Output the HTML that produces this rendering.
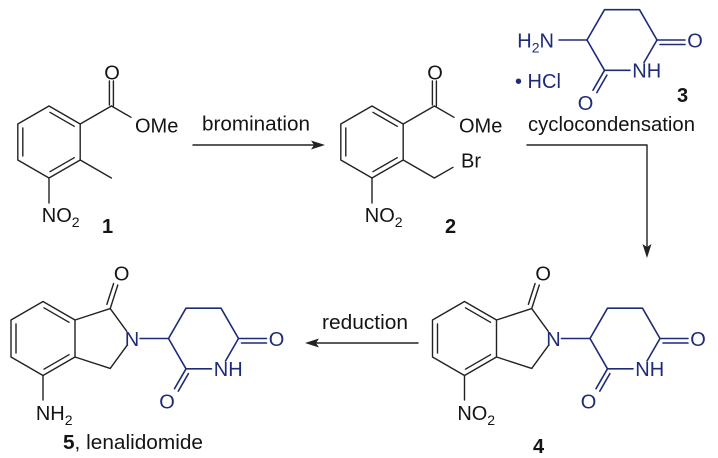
<!DOCTYPE html>
<html>
<head>
<meta charset="utf-8">
<style>
  html,body{margin:0;padding:0;background:#fff;}
  svg{display:block;}
  .k{stroke:#222;stroke-width:1.4;fill:none;stroke-linecap:round;stroke-linejoin:round}
  .b{stroke:#1f2a78;stroke-width:1.6;fill:none;stroke-linecap:round;stroke-linejoin:round}
  text{font-family:"Liberation Sans",Arial,sans-serif;}
  .a{font-size:20px;fill:#141414}
  .ab{font-size:20px;fill:#1f2a78}
  .c{font-size:20px;fill:#141414}
  .l{font-size:20px;font-weight:bold;fill:#141414}
</style>
</head>
<body>
<svg width="718" height="458" viewBox="0 0 718 458" xmlns="http://www.w3.org/2000/svg">
  <rect width="718" height="458" fill="#fff"/>

  <!-- Compound 1 -->
  <g class="k" transform="translate(49,142)">
    <polygon points="0,-36 31.2,-18 31.2,18 0,36 -31.2,18 -31.2,-18"/>
    <line x1="0.96" y1="-29.67" x2="25.24" y2="-15.67"/>
    <line x1="-26.2" y1="-14" x2="-26.2" y2="14"/>
    <line x1="0.96" y1="29.67" x2="25.24" y2="15.67"/>
    <line x1="31.2" y1="-18" x2="62.4" y2="-36"/>
    <line x1="60.4" y1="-37" x2="60.4" y2="-61"/>
    <line x1="64.4" y1="-36" x2="64.4" y2="-61"/>
    <line x1="62.4" y1="-36" x2="82" y2="-24.7"/>
    <line x1="31.2" y1="18" x2="62.4" y2="36"/>
    <line x1="0" y1="36" x2="0" y2="61"/>
  </g>
  <text class="a" x="112" y="79.3" text-anchor="middle">O</text>
  <text class="a" x="135" y="132.5">OMe</text>
  <text class="a" x="41.8" y="222">NO<tspan font-size="14" dy="5">2</tspan></text>
  <text class="l" x="102" y="233">1</text>

  <!-- Arrow 1 -->
  <line class="k" x1="193" y1="145" x2="315" y2="145"/>
  <polygon points="325,145 311,140.5 314,145 311,149.5" fill="#222"/>
  <text class="c" x="202" y="130.5" textLength="108" lengthAdjust="spacingAndGlyphs">bromination</text>

  <!-- Compound 2 -->
  <g class="k" transform="translate(372,142)">
    <polygon points="0,-36 31.2,-18 31.2,18 0,36 -31.2,18 -31.2,-18"/>
    <line x1="0.96" y1="-29.67" x2="25.24" y2="-15.67"/>
    <line x1="-26.2" y1="-14" x2="-26.2" y2="14"/>
    <line x1="0.96" y1="29.67" x2="25.24" y2="15.67"/>
    <line x1="31.2" y1="-18" x2="62.4" y2="-36"/>
    <line x1="60.4" y1="-37" x2="60.4" y2="-61"/>
    <line x1="64.4" y1="-36" x2="64.4" y2="-61"/>
    <line x1="62.4" y1="-36" x2="82" y2="-24.7"/>
    <polyline points="31.2,18 62.4,36 81,25.3"/>
    <line x1="0" y1="36" x2="0" y2="61"/>
  </g>
  <text class="a" x="435" y="79.3" text-anchor="middle">O</text>
  <text class="a" x="459" y="132.5">OMe</text>
  <text class="a" x="461" y="167.5">Br</text>
  <text class="a" x="364.8" y="222">NO<tspan font-size="14" dy="5">2</tspan></text>
  <text class="l" x="445" y="233">2</text>

  <!-- Compound 3 -->
  <g transform="translate(622,40)">
    <g class="b">
      <polyline points="-35,0 -17.5,-30.3 17.5,-30.3 35,0"/>
      <line x1="35" y1="0" x2="22" y2="22.5"/>
      <line x1="8" y1="30.3" x2="-17.5" y2="30.3"/>
      <line x1="-17.5" y1="30.3" x2="-35" y2="0"/>
      <line x1="35" y1="0" x2="63" y2="0"/>
      <line x1="38" y1="4.5" x2="63" y2="4.5"/>
      <line x1="-17.5" y1="30.3" x2="-29" y2="50.2"/>
      <line x1="-15.1" y1="35.15" x2="-25.2" y2="52.6"/>
      <line x1="-63" y1="0" x2="-35" y2="0"/>
    </g>
    <text class="ab" x="73" y="7.3" text-anchor="middle">O</text>
    <text class="ab" x="-36.5" y="70" text-anchor="middle">O</text>
    <text class="ab" x="10.3" y="37.6">NH</text>
  </g>
  <text class="ab" x="554" y="47.3" text-anchor="end">H<tspan font-size="14" dy="5">2</tspan><tspan dy="-5">N</tspan></text>
  <text class="ab" x="515" y="88">• HCl</text>
  <text class="l" x="677" y="102">3</text>
  <text class="c" x="528" y="131" textLength="167" lengthAdjust="spacingAndGlyphs">cyclocondensation</text>

  <!-- Arrow 2 -->
  <polyline class="k" points="527,145 647,145 647,247"/>
  <polygon points="647,258 642.5,244 647,247 651.5,244" fill="#222"/>

  <!-- Compound 4 -->
  <g transform="translate(464.5,338.5)">
    <g class="k">
      <polygon points="0,-37 32,-18.5 32,18.5 0,37 -32,18.5 -32,-18.5"/>
      <line x1="0.96" y1="-30.67" x2="26.04" y2="-16.17"/>
      <line x1="-27" y1="-14.5" x2="-27" y2="14.5"/>
      <line x1="0.96" y1="30.67" x2="26.04" y2="16.17"/>
      <line x1="32" y1="-18.5" x2="67.2" y2="-29.9"/>
      <line x1="67.2" y1="-29.9" x2="83.8" y2="-7.2"/>
      <line x1="67.2" y1="29.9" x2="83.8" y2="7.2"/>
      <line x1="32" y1="18.5" x2="67.2" y2="29.9"/>
      <line x1="67.2" y1="-29.9" x2="74.8" y2="-53.5"/>
      <line x1="63.85" y1="-34.15" x2="70.6" y2="-55"/>
      <line x1="0" y1="37" x2="0" y2="61.5"/>
    </g>
    <text class="a" x="78.6" y="-58" text-anchor="middle">O</text>
    <text class="ab" x="89" y="7.3" text-anchor="middle">N</text>
    <line class="b" x1="97" y1="0" x2="125.5" y2="0"/>
    <g transform="translate(160.5,0)">
      <g class="b">
        <polyline points="-35,0 -17.5,-30.3 17.5,-30.3 35,0"/>
        <line x1="35" y1="0" x2="22" y2="22.5"/>
        <line x1="8" y1="30.3" x2="-17.5" y2="30.3"/>
        <line x1="-17.5" y1="30.3" x2="-35" y2="0"/>
        <line x1="35" y1="0" x2="63" y2="0"/>
        <line x1="38" y1="4.5" x2="63" y2="4.5"/>
        <line x1="-17.5" y1="30.3" x2="-29" y2="50.2"/>
        <line x1="-15.1" y1="35.15" x2="-25.2" y2="52.6"/>
      </g>
      <text class="ab" x="73" y="7.3" text-anchor="middle">O</text>
      <text class="ab" x="-36.5" y="70" text-anchor="middle">O</text>
      <text class="ab" x="10.3" y="37.6">NH</text>
    </g>
    <text class="a" x="-7.2" y="81.5">NO<tspan font-size="14" dy="5">2</tspan></text>
  </g>
  <text class="l" x="533" y="453">4</text>

  <!-- Arrow 3 -->
  <line class="k" x1="418" y1="343" x2="315" y2="343"/>
  <polygon points="305,343 319,338.5 316,343 319,347.5" fill="#222"/>
  <text class="c" x="322" y="329" textLength="86" lengthAdjust="spacingAndGlyphs">reduction</text>

  <!-- Compound 5 -->
  <g transform="translate(43,338.5)">
    <g class="k">
      <polygon points="0,-37 32,-18.5 32,18.5 0,37 -32,18.5 -32,-18.5"/>
      <line x1="0.96" y1="-30.67" x2="26.04" y2="-16.17"/>
      <line x1="-27" y1="-14.5" x2="-27" y2="14.5"/>
      <line x1="0.96" y1="30.67" x2="26.04" y2="16.17"/>
      <line x1="32" y1="-18.5" x2="67.2" y2="-29.9"/>
      <line x1="67.2" y1="-29.9" x2="83.8" y2="-7.2"/>
      <line x1="67.2" y1="29.9" x2="83.8" y2="7.2"/>
      <line x1="32" y1="18.5" x2="67.2" y2="29.9"/>
      <line x1="67.2" y1="-29.9" x2="74.8" y2="-53.5"/>
      <line x1="63.85" y1="-34.15" x2="70.6" y2="-55"/>
      <line x1="0" y1="37" x2="0" y2="61.5"/>
    </g>
    <text class="a" x="78.6" y="-58" text-anchor="middle">O</text>
    <text class="ab" x="89" y="7.3" text-anchor="middle">N</text>
    <line class="b" x1="97" y1="0" x2="125.5" y2="0"/>
    <g transform="translate(160.5,0)">
      <g class="b">
        <polyline points="-35,0 -17.5,-30.3 17.5,-30.3 35,0"/>
        <line x1="35" y1="0" x2="22" y2="22.5"/>
        <line x1="8" y1="30.3" x2="-17.5" y2="30.3"/>
        <line x1="-17.5" y1="30.3" x2="-35" y2="0"/>
        <line x1="35" y1="0" x2="63" y2="0"/>
        <line x1="38" y1="4.5" x2="63" y2="4.5"/>
        <line x1="-17.5" y1="30.3" x2="-29" y2="50.2"/>
        <line x1="-15.1" y1="35.15" x2="-25.2" y2="52.6"/>
      </g>
      <text class="ab" x="73" y="7.3" text-anchor="middle">O</text>
      <text class="ab" x="-36.5" y="70" text-anchor="middle">O</text>
      <text class="ab" x="10.3" y="37.6">NH</text>
    </g>
    <text class="a" x="-7.2" y="81.5">NH<tspan font-size="14" dy="5">2</tspan></text>
  </g>
  <text class="c" x="63" y="449" textLength="140" lengthAdjust="spacingAndGlyphs"><tspan font-weight="bold">5</tspan>, lenalidomide</text>
</svg>
</body>
</html>
